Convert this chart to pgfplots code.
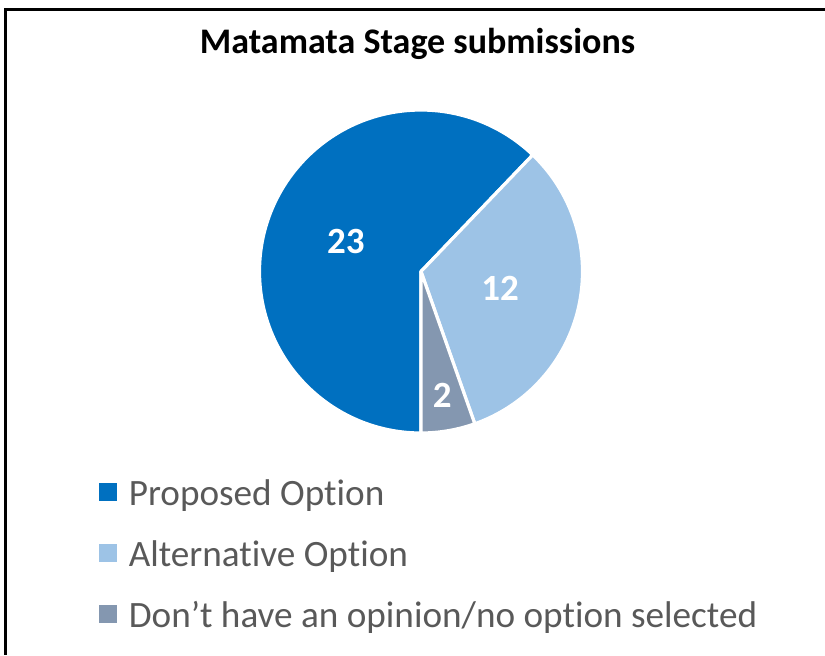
\documentclass[border=0pt]{standalone}
\usepackage{pgfplots}
\pgfplotsset{compat=1.18}
\usepackage{pgfplotstable}
\usepackage{fontspec}
\setmainfont{Carlito}[RawFeature=-liga]
\definecolor{cA}{HTML}{0070C0}
\definecolor{cB}{HTML}{9DC3E6}
\definecolor{cC}{HTML}{8497B0}
\definecolor{txt}{HTML}{595959}

\pgfplotstableread{
slice value
Proposed 23
Alternative 12
None 2
}\piedata

\newcommand\slice[3]{%
  \fill[#3, draw=white, line width=1.6pt, line join=round]
    (axis cs:421,271.5) -- (axis cs:{421+161.5*cos(#1)},{271.5-161.5*sin(#1)})
    arc[start angle=#1, end angle=#2, radius=80.75pt] -- cycle;}

\begin{document}
\begin{tikzpicture}
\pgfplotstablegetelem{0}{value}\of\piedata \let\vA\pgfplotsretval
\pgfplotstablegetelem{1}{value}\of\piedata \let\vB\pgfplotsretval
\pgfplotstablegetelem{2}{value}\of\piedata \let\vC\pgfplotsretval
\pgfmathsetmacro\tot{\vA+\vB+\vC}
\pgfmathsetmacro\aZ{270}
\pgfmathsetmacro\aA{\aZ-360*\vA/\tot}
\pgfmathsetmacro\aB{\aA-360*\vB/\tot}
\pgfmathsetmacro\aC{\aB-360*\vC/\tot}
\pgfmathsetmacro\mA{(\aZ+\aA)/2}
\pgfmathsetmacro\mB{(\aA+\aB)/2}
\pgfmathsetmacro\mC{(\aB+\aC)/2}
\begin{axis}[
  at={(0,0)}, anchor=south west,
  width=412.5pt, height=327.5pt, scale only axis,
  xmin=0, xmax=825, ymin=0, ymax=655, y dir=reverse,
  hide axis, clip=false,
  title={Matamata Stage submissions},
  title style={at={(axis cs:417.5,65)}, anchor=base, inner sep=0pt,
    font=\bfseries\fontsize{18}{18}\selectfont, text=black},
  legend image code/.code={\fill[#1] (0pt,-1.5pt) rectangle (8.5pt,7pt); \path (14.5pt,0pt);},
  legend cell align=left,
  legend style={at={(axis cs:99,481)}, anchor=north west, draw=none, fill=none,
    inner sep=0pt, outer sep=0pt, text=txt,
    font=\fontsize{18.6}{18.6}\selectfont, row sep=14pt, column sep=0pt,
    nodes={inner sep=0pt, text height=12pt, text depth=4.5pt}},
]
\path (axis cs:0,0) rectangle (axis cs:825,655);
\draw[line width=1.4pt, black] (axis cs:825,9.5) -- (axis cs:5.5,9.5) -- (axis cs:5.5,655);
\slice{\aZ}{\aA}{cA}
\slice{\aA}{\aB}{cB}
\slice{\aB}{\aC}{cC}
\node[font=\bfseries\fontsize{18.5}{18.5}\selectfont, text=white] at (axis cs:{421+81*cos(\mA)},{271.5-81*sin(\mA)}) {\vA};
\node[font=\bfseries\fontsize{18.5}{18.5}\selectfont, text=white] at (axis cs:{421+81*cos(\mB)},{271.5-81*sin(\mB)}) {\vB};
\node[font=\bfseries\fontsize{18.5}{18.5}\selectfont, text=white] at (axis cs:{421+126*cos(\mC)},{271.5-126*sin(\mC)}) {\vC};
\addlegendimage{cA}
\addlegendentry{Proposed Option}
\addlegendimage{cB}
\addlegendentry{Alternative Option}
\addlegendimage{cC}
\addlegendentry{Don’t have an opinion/no option selected}
\end{axis}
\pgfresetboundingbox
\useasboundingbox (current axis.south west) rectangle (current axis.north east);
\end{tikzpicture}
\end{document}
